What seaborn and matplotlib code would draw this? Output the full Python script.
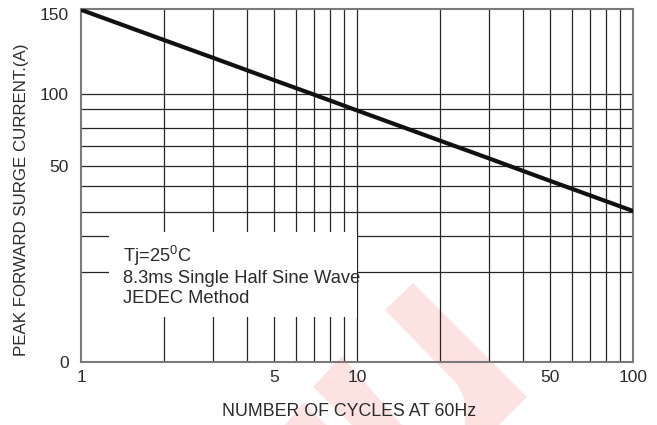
import numpy as np
import pandas as pd
import matplotlib.pyplot as plt
import seaborn as sns
from matplotlib.patches import Rectangle, Polygon

# Data
cycles = [1, 2, 3, 5, 7, 10, 20, 30, 40, 50, 100]
current = [152.5, 133.6, 122.6, 108.6, 99.4, 88.5, 67.5, 55.3, 48.7, 46.2, 38.5]

x_ticks = [1, 5, 10, 50, 100]
y_ticks = [0, 50, 100, 150]
x_grid = [2, 3, 4, 5, 6, 7, 8, 9, 10, 20, 30, 40, 50, 60, 70, 80, 90]
y_grid = [100, 89.6, 76.4, 63.9, 50, 44.9, 38.3, 32.2, 23.0]

note_lines = [r"Tj=25$^{\mathregular{0}}$C", "8.3ms Single Half Sine Wave", "JEDEC Method"]

# the chart's y axis is not linear: piecewise mapping value -> height
y_anchor_val = [0, 50, 100, 160]
y_anchor_pos = [0, 196, 268, 364]


def y_forward(v):
    return np.interp(v, y_anchor_val, y_anchor_pos)


def y_inverse(p):
    return np.interp(p, y_anchor_pos, y_anchor_val)


sns.set_style("white")
plt.rcParams["font.family"] = ["Liberation Sans", "DejaVu Sans"]
plt.rcParams["mathtext.fontset"] = "custom"
plt.rcParams["mathtext.rm"] = "Liberation Sans"

txt_color = "#2b2b2b"

fig, ax = plt.subplots(figsize=(6.57, 4.25), dpi=100)
plt.subplots_adjust(left=0.1233, right=0.9635, bottom=0.1482, top=0.9788)
ax.set_facecolor("none")

# faint watermark behind the chart (figure pixels)
W, H = 657, 425
marks = [
    [(385, 310), (413, 283), (527, 397), (499, 425), (465, 425), (464, 398), (458, 385)],
    [(313, 387), (342, 356), (402, 425), (352, 425)],
    [(285, 425), (304, 402), (326, 425)],
]
for pts in marks:
    poly = Polygon([(x / W, 1 - y / H) for x, y in pts], closed=True,
                   transform=fig.transFigure, facecolor="#fde2e2",
                   edgecolor="none", zorder=-1)
    fig.patches.append(poly)

ax.set_xscale("log")
ax.set_yscale("function", functions=(y_forward, y_inverse))
ax.set_xlim(1, 100)
ax.set_ylim(0, 153)

for gx in x_grid:
    ax.axvline(gx, color="#262626", lw=0.9, zorder=1)
for gy in y_grid:
    ax.axhline(gy, color="#262626", lw=0.9, zorder=1)

# white area behind the note
ax.add_patch(Rectangle((0.0507, 0.1275), 0.449, 0.2405, transform=ax.transAxes,
                       facecolor="white", edgecolor="none", zorder=1.5))

df = pd.DataFrame({"cycles": cycles, "current": current})
sns.lineplot(data=df, x="cycles", y="current", color="#111111", lw=3, ax=ax, zorder=3)

for i, line in enumerate(note_lines):
    ax.text(0.076, 0.283 - i * 0.058, line, transform=ax.transAxes,
            fontsize=13.2, color=txt_color, va="baseline", ha="left", zorder=4)

ax.set_xticks(x_ticks)
ax.set_xticklabels([str(v) for v in x_ticks])
ax.xaxis.set_minor_locator(plt.NullLocator())
ax.set_yticks(y_ticks)
ax.set_yticklabels([str(v) for v in y_ticks])
ax.yaxis.set_minor_locator(plt.NullLocator())
ax.tick_params(axis="both", length=0, labelsize=12.5, colors=txt_color)
ax.tick_params(axis="x", pad=6)
ax.tick_params(axis="y", pad=9)

ax.set_xlabel("NUMBER OF CYCLES AT 60Hz", fontsize=12.8, color=txt_color)
ax.set_ylabel("PEAK FORWARD SURGE CURRENT.(A)", fontsize=12.2, color=txt_color)
ax.xaxis.set_label_coords(0.4855, -0.117)
ax.yaxis.set_label_coords(-0.094, 0.459)

for s in ax.spines.values():
    s.set_color("#7a7a7a")
    s.set_linewidth(1.5)

plt.savefig("out.png", dpi=100)
